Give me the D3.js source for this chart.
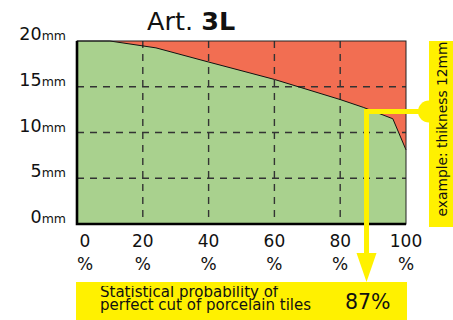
<!DOCTYPE html>
<html>
<head>
<meta charset="utf-8">
<script src="https://cdn.jsdelivr.net/npm/d3@7/dist/d3.min.js"></script>
<style>
  html, body { margin: 0; padding: 0; background: #ffffff; }
  svg { display: block; }
  text { font-family: "DejaVu Sans", "Liberation Sans", Arial, sans-serif; fill: #111; }
  .prob { font-family: "DejaVu Sans", "Liberation Sans", Arial, sans-serif; color: #111;
          font-size: 15px; line-height: 13.5px; margin: 0; padding: 0; white-space: pre; }
</style>
</head>
<body>
<svg id="chart" width="453" height="320"></svg>
<script>
// ---- data ----
const percentTicks = [0, 20, 40, 60, 80, 100];
const mmTicks = [0, 5, 10, 15, 20];
const gridPercents = [20, 40, 60, 80];
const gridMm = [5, 10, 15];
// boundary of perfect cut (percent, thickness in mm)
const boundaryPercent = [0, 10, 24, 40, 60, 80, 87, 96, 100];
const boundaryMm      = [20, 20, 19.25, 17.7, 15.8, 13.6, 12.75, 11.5, 8.1];
// example marker (as drawn): percent, mm
const markerPos = [88, 12.3];
const titleText = ["Art. ", "3L"];
const exampleLabel = "example: thikness 12mm";
const probabilityLines = ["Statistical probability of", "perfect cut of porcelain tiles"];
const probabilityValue = "87%";

// ---- layout ----
const svg = d3.select("#chart");
const pLeft = 77, pRight = 406, pTop = 41, pBottom = 224;
const x = d3.scaleLinear().domain([0, 100]).range([pLeft, pRight]);
const y = d3.scaleLinear().domain([0, 20]).range([pBottom, pTop]);

const green = "#a9d18e", red = "#f26e52", yellow = "#fff100";

// red background (upper region)
svg.append("rect")
  .attr("x", x(0)).attr("y", y(20))
  .attr("width", x(100) - x(0)).attr("height", y(0) - y(20))
  .attr("fill", red);

const pts = boundaryPercent.map((p, i) => [p, boundaryMm[i]]);

// green area (below boundary)
const area = d3.area()
  .x(d => x(d[0])).y0(y(0)).y1(d => y(d[1]));
svg.append("path").datum(pts).attr("d", area).attr("fill", green);

// grid
svg.append("g").selectAll("line").data(gridPercents).join("line")
  .attr("x1", d => x(d)).attr("x2", d => x(d))
  .attr("y1", y(20)).attr("y2", y(0))
  .attr("stroke", "#333").attr("stroke-width", 1.4).attr("stroke-dasharray", "7,6");
svg.append("g").selectAll("line").data(gridMm).join("line")
  .attr("x1", x(0)).attr("x2", x(100))
  .attr("y1", d => y(d)).attr("y2", d => y(d))
  .attr("stroke", "#333").attr("stroke-width", 1.4).attr("stroke-dasharray", "7,6");

// boundary line
const line = d3.line().x(d => x(d[0])).y(d => y(d[1]));
svg.append("path").datum(pts).attr("d", line)
  .attr("fill", "none").attr("stroke", "#111").attr("stroke-width", 1);

// frame: thin top/right, thick left/bottom
svg.append("rect")
  .attr("x", x(0)).attr("y", y(20))
  .attr("width", x(100) - x(0)).attr("height", y(0) - y(20))
  .attr("fill", "none").attr("stroke", "#222").attr("stroke-width", 1);
svg.append("path")
  .attr("d", `M${x(0)},${y(20)} V${y(0)} H${x(100)}`)
  .attr("fill", "none").attr("stroke", "#000").attr("stroke-width", 2.6);

// y labels
const yl = svg.append("g").selectAll("text").data(mmTicks).join("text")
  .attr("x", 66).attr("y", d => y(d) - 1)
  .attr("text-anchor", "end");
yl.append("tspan").attr("font-size", 17.5).text(d => d);
yl.append("tspan").attr("font-size", 12.5).text("mm");

// x labels
const xg = svg.append("g").selectAll("g").data(percentTicks).join("g")
  .attr("transform", (d, i) => `translate(${i === 0 ? x(d) + 8 : x(d)},0)`);
xg.append("text").attr("y", 247).attr("text-anchor", "middle")
  .attr("font-size", 17).text(d => d);
xg.append("text").attr("y", 270).attr("text-anchor", "middle")
  .attr("font-size", 17).text("%");

// title
const t = svg.append("text").attr("x", 147).attr("y", 30).attr("font-size", 25.5);
t.append("tspan").text(titleText[0]);
t.append("tspan").attr("font-weight", "bold").text(titleText[1]);

// right label box
svg.append("rect").attr("x", 429).attr("y", 41).attr("width", 24).attr("height", 186)
  .attr("fill", yellow);
svg.append("text")
  .attr("transform", `translate(447,${(41 + 227) / 2 - 5}) rotate(-90)`)
  .attr("text-anchor", "middle").attr("font-size", 13.8)
  .text(exampleLabel);

// marker lines
const mx = x(markerPos[0]), my = y(markerPos[1]);
svg.append("circle").attr("cx", 429).attr("cy", my).attr("r", 11).attr("fill", yellow);
svg.append("line").attr("x1", mx - 2.5).attr("x2", 429).attr("y1", my).attr("y2", my)
  .attr("stroke", yellow).attr("stroke-width", 5);
svg.append("line").attr("x1", mx).attr("x2", mx).attr("y1", my - 2.5).attr("y2", 255)
  .attr("stroke", yellow).attr("stroke-width", 5);
svg.append("path")
  .attr("d", `M${mx - 10},253 L${mx + 10},253 L${mx},282 Z`)
  .attr("fill", yellow);

// bottom probability box
svg.append("rect").attr("x", 76).attr("y", 282).attr("width", 331).attr("height", 38)
  .attr("fill", yellow);
svg.append("foreignObject")
  .attr("x", 100).attr("y", 285.6).attr("width", 240).attr("height", 32)
  .append("xhtml:div").attr("class", "prob")
  .text(probabilityLines.join("\n"));
svg.append("text").attr("x", 345).attr("y", 309).attr("font-size", 20.5)
  .text(probabilityValue);
</script>
</body>
</html>
